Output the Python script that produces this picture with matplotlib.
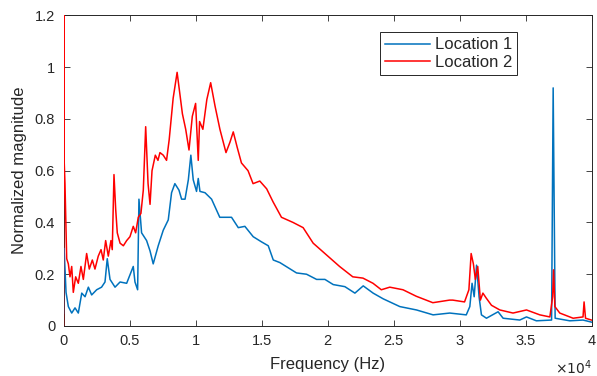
import numpy as np
import matplotlib
matplotlib.use("Agg")
import matplotlib.pyplot as plt

# frequency (Hz) / normalized magnitude
freq_loc1 = [0, 30, 60, 190, 365, 620, 870, 1120, 1380, 1630, 1880, 2130, 2510, 2880,
             3140, 3310, 3520, 3900, 4280, 4780, 5280, 5410, 5610, 5710, 5910, 6290,
             6550, 6790, 7170, 7550, 7930, 8180, 8430, 8740, 8940, 9200, 9450, 9640,
             9820, 10070, 10200, 10330, 10710, 11210, 11830, 12720, 13230, 13730, 14360,
             14990, 15500, 15880, 16380, 17010, 17640, 18400, 19160, 19790, 20420, 21300,
             22060, 22690, 23440, 24200, 25460, 26720, 27980, 29240, 30490, 30760, 30930,
             31090, 31270, 31460, 31640, 32020, 32900, 33280, 34540, 35050, 35800, 36950,
             37070, 37220, 38330, 39330, 39970]
mag_loc1 = [0.05, 0.30, 0.28, 0.13, 0.075, 0.05, 0.07, 0.05, 0.127, 0.113, 0.15, 0.12,
            0.14, 0.15, 0.17, 0.26, 0.18, 0.15, 0.17, 0.165, 0.23, 0.17, 0.14, 0.49, 0.36,
            0.33, 0.29, 0.24, 0.31, 0.37, 0.41, 0.515, 0.55, 0.525, 0.49, 0.49, 0.565,
            0.66, 0.565, 0.52, 0.57, 0.52, 0.515, 0.49, 0.42, 0.42, 0.38, 0.385, 0.345,
            0.325, 0.31, 0.255, 0.245, 0.225, 0.205, 0.20, 0.18, 0.18, 0.16, 0.152, 0.127,
            0.155, 0.127, 0.105, 0.075, 0.062, 0.043, 0.05, 0.043, 0.075, 0.165, 0.113,
            0.235, 0.113, 0.043, 0.03, 0.055, 0.03, 0.023, 0.035, 0.02, 0.023, 0.92, 0.03,
            0.02, 0.023, 0.015]

freq_loc2 = [0, 15, 40, 110, 240, 365, 490, 620, 740, 920, 1120, 1320, 1500, 1750, 1950,
             2180, 2380, 2630, 2840, 3010, 3190, 3390, 3590, 3690, 3820, 3950, 4070, 4280,
             4530, 4780, 5030, 5280, 5460, 5660, 5860, 6040, 6220, 6400, 6550, 6700, 6950,
             7150, 7300, 7550, 7800, 8000, 8300, 8600, 8800, 9000, 9250, 9500, 9750, 10000,
             10200, 10300, 10550, 10850, 11140, 11470, 11840, 12300, 12600, 12850, 13150,
             13470, 13970, 14350, 14860, 15380, 15860, 16500, 17380, 18140, 18900, 19900,
             20900, 21900, 22670, 23430, 24060, 24700, 25700, 26700, 27960, 29220, 29470,
             30360, 30690, 30860, 31030, 31180, 31360, 31560, 31750, 32000, 32400, 33030,
             34030, 35050, 36060, 36820, 37030, 37100, 37200, 37570, 38580, 39330, 39410,
             39520, 39970]
mag_loc2 = [0.0, 1.4, 0.65, 0.55, 0.26, 0.24, 0.19, 0.23, 0.13, 0.19, 0.165, 0.23, 0.18,
            0.28, 0.22, 0.255, 0.22, 0.27, 0.295, 0.255, 0.33, 0.27, 0.33, 0.295, 0.585,
            0.45, 0.36, 0.32, 0.31, 0.33, 0.345, 0.385, 0.36, 0.42, 0.435, 0.525, 0.77,
            0.55, 0.47, 0.60, 0.66, 0.64, 0.67, 0.66, 0.64, 0.72, 0.88, 0.98, 0.90, 0.82,
            0.76, 0.68, 0.81, 0.86, 0.64, 0.79, 0.76, 0.875, 0.94, 0.85, 0.76, 0.67, 0.71,
            0.75, 0.69, 0.63, 0.60, 0.55, 0.56, 0.53, 0.48, 0.42, 0.40, 0.38, 0.32, 0.275,
            0.23, 0.19, 0.185, 0.165, 0.14, 0.15, 0.14, 0.115, 0.09, 0.10, 0.10, 0.093,
            0.14, 0.28, 0.24, 0.18, 0.23, 0.10, 0.127, 0.108, 0.08, 0.062, 0.05, 0.062,
            0.043, 0.035, 0.113, 0.217, 0.075, 0.05, 0.03, 0.035, 0.093, 0.03, 0.023]

series_names = ["Location 1", "Location 2"]
xtick_vals = [0, 5000, 10000, 15000, 20000, 25000, 30000, 35000, 40000]
xtick_labels = ["0", "0.5", "1", "1.5", "2", "2.5", "3", "3.5", "4"]
ytick_vals = [0, 0.2, 0.4, 0.6, 0.8, 1.0, 1.2]
ytick_labels = ["0", "0.2", "0.4", "0.6", "0.8", "1", "1.2"]

plt.rcParams['font.family'] = ['Liberation Sans', 'DejaVu Sans']
txt = '#262626'

fig = plt.figure(figsize=(5.97, 3.76), dpi=100)
ax = fig.add_axes([0.1064, 0.133, 0.885, 0.826])

ax.plot(freq_loc1, mag_loc1, color='#0072BD', lw=1.1, label=series_names[0], zorder=3)
ax.plot(freq_loc2, mag_loc2, color='#FF0000', lw=1.1, label=series_names[1], zorder=3)

ax.set_xlim(0, 40000)
ax.set_ylim(0, 1.2)
ax.set_xticks(xtick_vals)
ax.set_xticklabels(xtick_labels)
ax.set_yticks(ytick_vals)
ax.set_yticklabels(ytick_labels)
ax.tick_params(direction='in', length=4, width=0.6, top=True, right=True,
               labelsize=10.5, colors=txt, pad=6)
for s in ax.spines.values():
    s.set_linewidth(0.7)
    s.set_color(txt)

ax.set_xlabel("Frequency (Hz)", fontsize=12, color=txt)
ax.set_ylabel("Normalized magnitude", fontsize=12, color=txt)
ax.xaxis.set_label_coords(0.5, -0.10)
ax.yaxis.set_label_coords(-0.07, 0.5)
ax.text(1.0, -0.105, r'$\times10^{4}$', transform=ax.transAxes, ha='right', va='top',
        fontsize=10, color=txt)

leg = ax.legend(loc='upper right', bbox_to_anchor=(0.859, 0.945), borderaxespad=0,
                fontsize=12, handlelength=2.7, labelspacing=0.15, borderpad=0.3,
                handletextpad=0.3, fancybox=False, framealpha=1, edgecolor=txt)
leg.get_frame().set_linewidth(0.7)
for t in leg.get_texts():
    t.set_color(txt)

fig.savefig("out.png", dpi=100)
